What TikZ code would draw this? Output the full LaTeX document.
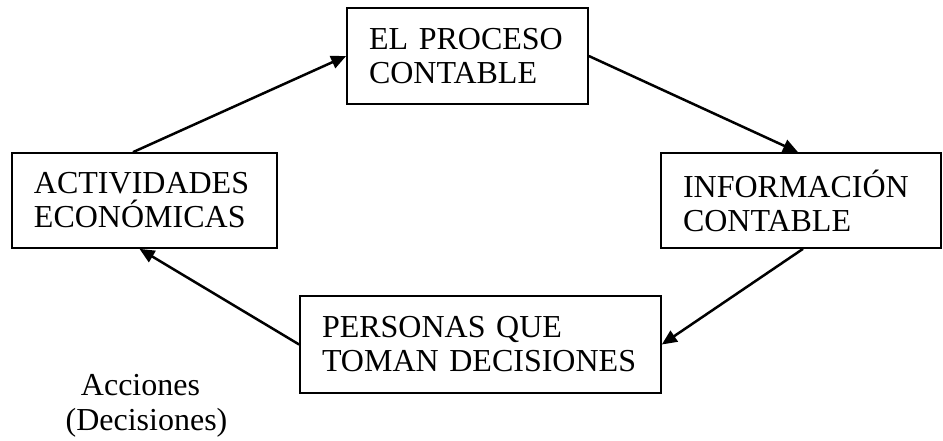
\documentclass[tikz,border=0pt]{standalone}
\usepackage{fontspec}
\setmainfont{Liberation Serif}
\usetikzlibrary{arrows.meta}

\begin{document}
\begin{tikzpicture}[x=1pt,y=-1pt,>={Triangle[length=15pt,width=13pt]},line width=2.5pt]
    \tikzstyle{every node}=[font=\fontsize{32}{34}\selectfont]
    \tikzstyle{box}=[draw,rectangle,line width=1.7pt,align=left,inner xsep=22pt,inner ysep=0pt]
    \tikzstyle{note}=[inner sep=0pt,anchor=base]
    \useasboundingbox (0,0) rectangle (943,441);

    % Draw the four boxes of the cycle
    \node[box,text width=197pt,minimum height=96pt] (proceso) at (467.5,56) {EL PROCESO\\CONTABLE};
    \node[box,text width=221pt,minimum height=95pt] (actividades) at (144.5,200.5) {ACTIVIDADES\\ECON\'OMICAS};
    \node[box,text width=236pt,minimum height=95pt] (informacion) at (801,200.5) {INFORMACI\'ON\\CONTABLE};
    \node[box,text width=317pt,minimum height=97pt] (personas) at (480.5,344.5) {PERSONAS QUE\\TOMAN DECISIONES};

    % Connect the boxes round the cycle
    \draw[->] ([xshift=-11.5pt]actividades.north) -- (proceso.west);
    \draw[->] (proceso.east) -- ([xshift=-3pt]informacion.north);
    \draw[->] ([xshift=2pt]informacion.south) -- (personas.east);
    \draw[->] (personas.west) -- ([xshift=-5pt]actividades.south);

    % Annotate the last arrow
    \node[note] (acciones) at (140.5,395) {Acciones};
    \node[note] (decisiones) at (146.5,430) {(Decisiones)};
\end{tikzpicture}
\end{document}
